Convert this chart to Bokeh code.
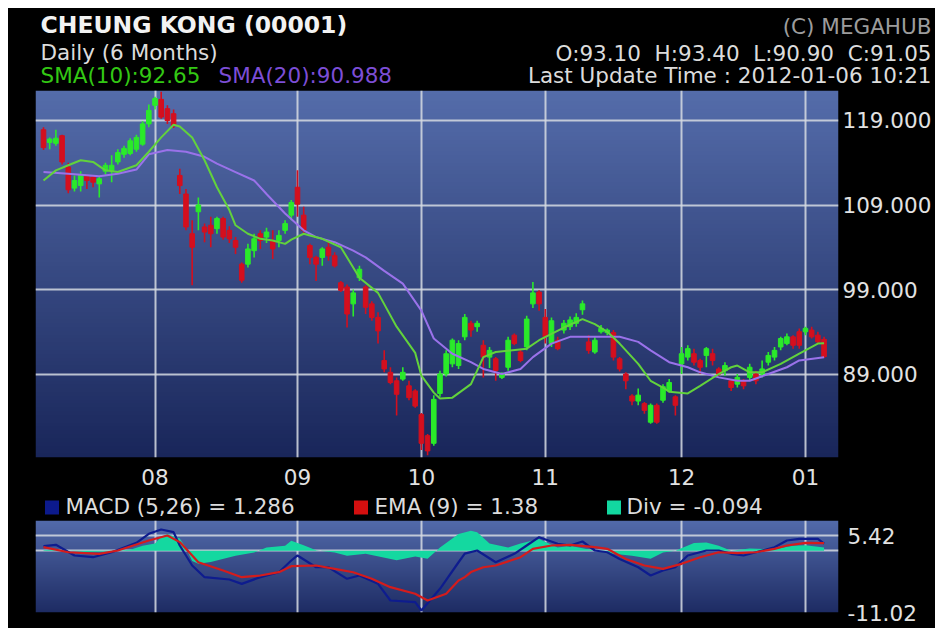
import numpy as np
from bokeh.plotting import figure
from bokeh.layouts import column
from bokeh.models import Range1d, FixedTicker, ColumnDataSource, Label
from bokeh.embed import file_html
from bokeh.resources import INLINE

FONT = "DejaVu Sans"
W = 927
BL, BR = 27, 97

# ---------------- data ----------------
month_idx = [18, 41, 61, 81, 103, 123]
month_labels = ["08", "09", "10", "11", "12", "01"]
price_ticks = [89, 99, 109, 119]
price_labels = ["89.000", "99.000", "109.000", "119.000"]

opens = [117.9, 116.4, 116.3, 117.2, 113.5, 111.0, 111.3, 112.4, 112.3, 111.5,
         113.0, 113.1, 114.1, 115.0, 115.1, 115.6, 116.2, 118.6, 120.8, 121.5,
         120.4, 119.8, 112.5, 110.3, 105.6, 108.2, 106.4, 106.6, 106.2, 107.4,
         106.0, 104.8, 102.0, 102.0, 103.6, 105.6, 105.2, 104.8, 104.8, 106.0,
         107.8, 111.1, 107.8, 104.2, 102.8, 102.8, 104.0, 103.0, 99.8, 99.3,
         97.3, 100.4, 99.3, 97.3, 95.7, 90.6, 89.2, 88.2, 88.4, 87.6,
         87.0, 84.2, 81.7, 80.8, 86.7, 89.0, 90.2, 90.0, 93.4, 95.0,
         94.6, 92.4, 91.0, 90.8, 88.6, 89.8, 93.6, 91.6, 92.2, 97.3,
         98.7, 95.7, 92.6, 93.0, 94.2, 94.6, 95.0, 96.6, 92.8, 91.6,
         94.0, 93.9, 93.9, 90.8, 89.0, 86.4, 85.8, 85.5, 83.3, 85.3,
         85.9, 87.0, 86.3, 90.2, 91.0, 91.4, 90.6, 91.2, 91.4, 89.6,
         89.4, 88.2, 87.8, 88.2, 88.6, 89.0, 89.0, 90.4, 91.0, 92.2,
         92.6, 93.4, 94.0, 94.0, 94.2, 93.6, 93.1]
highs = [118.2, 117.0, 117.9, 117.3, 114.0, 112.5, 113.0, 112.6, 112.5, 112.3,
         114.0, 114.9, 115.6, 116.0, 116.9, 117.3, 118.9, 120.9, 121.8, 122.4,
         120.8, 120.3, 113.3, 110.9, 107.2, 109.9, 106.8, 107.6, 107.6, 107.6,
         106.5, 105.2, 102.2, 104.4, 105.6, 106.0, 106.3, 106.0, 106.0, 107.2,
         109.6, 113.1, 108.8, 104.4, 103.0, 104.0, 104.6, 103.4, 100.0, 99.6,
         99.0, 101.8, 99.5, 97.6, 96.3, 91.8, 89.8, 88.6, 89.8, 88.2,
         87.2, 84.4, 81.9, 86.5, 89.4, 91.8, 93.2, 93.0, 96.1, 95.3,
         95.3, 93.0, 92.2, 91.0, 89.2, 93.4, 93.8, 92.0, 95.9, 99.9,
         98.9, 96.7, 95.7, 93.4, 95.4, 95.8, 96.2, 97.7, 93.6, 93.4,
         94.8, 94.4, 94.2, 91.0, 89.2, 86.6, 87.3, 85.7, 85.5, 85.5,
         87.8, 88.4, 86.5, 92.2, 92.4, 92.0, 90.8, 92.2, 92.0, 89.8,
         90.4, 88.4, 89.0, 88.4, 90.2, 89.4, 90.6, 91.6, 92.2, 93.4,
         93.8, 93.6, 94.4, 94.6, 94.6, 94.0, 93.4]
lows = [115.5, 115.6, 116.0, 113.8, 110.4, 110.6, 110.6, 110.9, 111.1, 109.9,
        112.6, 111.7, 113.8, 114.6, 114.9, 115.3, 116.0, 118.2, 120.3, 119.2,
        118.6, 118.1, 110.3, 106.0, 99.5, 106.0, 104.6, 104.0, 105.6, 104.9,
        104.5, 103.2, 99.8, 101.6, 102.8, 103.8, 104.5, 102.6, 104.0, 105.6,
        107.2, 107.6, 105.6, 102.0, 100.0, 101.8, 102.4, 101.6, 98.7, 94.5,
        95.8, 100.0, 96.1, 95.3, 92.6, 89.2, 87.8, 84.1, 88.2, 85.9,
        85.0, 80.0, 79.4, 80.5, 86.3, 88.7, 89.8, 89.6, 93.0, 93.4,
        94.0, 88.6, 89.7, 88.2, 88.4, 89.4, 92.4, 90.4, 91.8, 96.8,
        96.5, 92.6, 92.2, 91.8, 93.8, 94.2, 94.6, 96.0, 91.4, 91.4,
        93.8, 93.6, 90.6, 89.3, 87.2, 85.3, 85.3, 84.3, 83.1, 83.1,
        85.6, 86.8, 84.1, 89.0, 90.6, 90.0, 89.0, 89.8, 90.0, 88.8,
        88.8, 87.0, 87.4, 87.2, 88.2, 87.8, 88.6, 90.0, 90.6, 91.8,
        92.4, 92.0, 92.0, 93.6, 93.2, 92.6, 90.9]
closes = [115.8, 116.8, 116.9, 114.1, 110.8, 111.9, 112.6, 111.9, 111.7, 112.1,
          113.7, 113.7, 115.2, 115.7, 116.6, 117.0, 118.6, 120.2, 121.6, 119.4,
          119.0, 118.4, 111.3, 106.4, 104.0, 109.0, 105.8, 105.6, 107.4, 105.2,
          105.0, 104.0, 100.1, 103.8, 105.0, 104.8, 105.8, 103.8, 105.4, 106.8,
          109.3, 109.1, 106.0, 102.8, 102.0, 103.8, 103.0, 101.8, 98.9, 96.1,
          98.6, 101.4, 96.9, 95.7, 94.1, 89.6, 88.0, 86.6, 89.2, 86.2,
          85.2, 80.8, 79.9, 86.0, 89.0, 91.4, 93.0, 92.6, 95.7, 94.2,
          95.0, 91.0, 91.8, 89.4, 89.0, 93.0, 92.6, 90.6, 95.5, 98.6,
          97.3, 93.4, 95.3, 92.0, 95.0, 95.4, 95.7, 97.3, 91.8, 93.0,
          94.4, 94.2, 91.0, 89.6, 88.2, 85.8, 86.5, 84.7, 85.3, 83.3,
          87.5, 88.0, 85.3, 91.4, 92.0, 90.4, 89.8, 92.0, 90.6, 89.0,
          90.0, 87.4, 88.6, 87.6, 89.8, 88.2, 89.6, 91.2, 91.8, 93.2,
          93.4, 92.4, 92.4, 94.4, 93.4, 92.8, 91.05]

sma10_idx = [0, 2, 4, 6, 8, 10, 12, 15, 17, 19, 21, 22, 24, 26, 28, 30, 31, 33, 35, 37,
             39, 40, 42, 43, 45, 48, 51, 54, 57, 60, 61, 63, 64, 66, 69, 71, 73, 78, 80, 84,
             87, 89, 91, 93, 96, 98, 100, 101, 104, 106, 109, 111, 112, 114, 116, 119, 122, 125, 126]
sma10_val = [111.9, 113.1, 113.7, 114.3, 114.1, 113.1, 112.9, 113.7, 115.3, 117.0,
             118.5, 118.3, 117.0, 114.3, 111.1, 108.4, 106.6, 105.6, 105.0, 104.8,
             104.4, 104.9, 105.6, 105.4, 105.0, 104.0, 100.4, 98.6, 94.6, 91.5,
             88.8, 86.8, 86.1, 86.2, 87.8, 91.0, 91.6, 92.0, 93.0, 94.5,
             95.5, 94.9, 94.0, 92.6, 90.2, 88.2, 87.4, 86.9, 86.7, 87.6,
             89.0, 89.8, 90.0, 89.2, 89.2, 90.2, 91.4, 92.6, 92.65]

sma20_idx = [0, 4, 9, 12, 15, 17, 20, 23, 26, 28, 31, 34, 36, 39, 42, 44, 47, 50, 52, 55,
             58, 61, 63, 66, 69, 71, 74, 77, 79, 82, 85, 88, 90, 93, 96, 98, 101, 104, 106, 109,
             112, 114, 117, 120, 122, 126]
sma20_val = [112.9, 112.7, 112.4, 112.7, 113.2, 115.0, 115.5, 115.3, 114.7, 113.9,
             112.9, 111.9, 110.3, 108.0, 106.0, 105.2, 104.6, 103.6, 102.8, 101.2,
             99.7, 96.5, 93.2, 91.4, 90.4, 89.6, 89.0, 89.6, 91.0, 92.6,
             93.4, 93.4, 93.4, 93.4, 92.8, 91.8, 90.4, 89.8, 89.2, 88.6,
             88.2, 88.2, 89.0, 89.8, 90.6, 90.988]

macd_idx = [0, 2, 5, 8, 11, 15, 17, 19, 21, 22, 24, 26, 30, 32, 35, 38, 40, 41, 44, 46,
            49, 51, 54, 56, 60, 61, 64, 67, 68, 70, 73, 76, 78, 80, 83, 85, 87, 89, 91, 93,
            96, 98, 100, 102, 104, 107, 109, 111, 113, 115, 118, 120, 122, 125, 126]
macd_val = [0.83, 1.08, -0.83, -1.14, -0.25, 1.43, 3.04, 3.81, 3.33, 0.95,
            -2.62, -4.71, -5.12, -5.9, -4.71, -3.82, -1.73, -0.83, -2.93, -2.93,
            -5.0, -4.41, -5.9, -8.88, -9.18, -10.66, -6.79, -2.04, -0.5, 0.06,
            -2.04, -0.53, 0.95, 2.44, 1.26, 0.95, 1.67, 0.06, -0.25, -1.45,
            -2.93, -4.41, -3.52, -2.93, -0.83, 0.06, 0.06, -0.53, -0.83, -0.25,
            0.65, 1.85, 2.15, 2.15, 1.286]

ema_idx = [0, 4, 9, 12, 17, 20, 22, 25, 29, 32, 35, 38, 40, 44, 47, 50, 53, 56, 60, 62,
           65, 67, 68, 69, 71, 73, 77, 79, 82, 85, 89, 91, 94, 97, 100, 103, 106, 109, 112, 115,
           118, 120, 123, 126]
ema_val = [0.65, -0.25, -0.53, 0.06, 1.85, 2.74, 1.56, -2.04, -3.52, -4.71,
           -4.41, -3.82, -2.75, -2.62, -3.22, -3.82, -5.0, -6.49, -7.68, -8.88,
           -7.68, -5.3, -4.7, -3.8, -2.93, -2.62, -1.14, 0.36, 0.95, 1.08,
           0.65, 0.36, -1.45, -2.62, -3.22, -2.32, -1.14, -0.25, -0.4, -0.25,
           0.36, 0.95, 1.43, 1.38]

div_idx = [0, 2, 4, 7, 10, 14, 16, 18, 19, 20, 22, 23, 24, 25, 27, 31, 34, 36, 39, 40,
           42, 44, 47, 49, 52, 57, 60, 62, 64, 67, 69, 70, 72, 75, 77, 80, 83, 85, 89, 92,
           95, 98, 100, 102, 105, 107, 109, 111, 114, 118, 121, 123, 126]
div_val = [0.1, 0.3, 0.0, -0.2, -0.1, 0.2, 0.9, 1.3, 2.5, 3.0,
           2.2, 0.5, -1.8, -2.3, -2.0, -0.9, -0.3, 0.6, 0.9, 1.8,
           1.0, 0.1, -0.3, -0.9, -0.5, -1.7, -1.0, -1.4, 0.6, 3.0,
           3.6, 3.3, 1.3, 0.6, 1.3, 2.1, 0.6, 0.9, 0.0, -0.5,
           -0.9, -1.4, -0.3, 0.0, 1.4, 1.5, 0.9, 0.0, 0.4, 0.3,
           0.9, 1.0, 0.6]

macd_ticks = [2.71, -11.02]
macd_tick_labels = ["5.42", "-11.02"]
macd_grid = [0, 2.71]

NB = "\u00a0"
header_left = ["CHEUNG KONG (00001)", "Daily (6 Months)"]
header_sma = ["SMA(10):92.65", "SMA(20):90.988"]
header_right = ["(C) MEGAHUB", f"O:93.10{NB} H:93.40{NB} L:90.90{NB} C:91.05",
                "Last Update Time : 2012-01-06 10:21"]
legend_texts = ["MACD (5,26) = 1.286", "EMA (9) = 1.38", "Div = -0.094"]
legend_colors = ["#0c1a8c", "#d40f0f", "#12d8a0"]

# ---------------- styling helpers ----------------
UP = "#2aea2a"
DOWN = "#d40f1e"
GRID = "#d6dae2"
TXT = "#dcdcdc"


def gradient(top, bottom, n=96):
    img = np.empty((n, 1), dtype=np.uint32)
    view = img.view(dtype=np.uint8).reshape((n, 1, 4))
    for r in range(n):
        t = r / (n - 1)
        for k in range(3):
            view[r, 0, k] = int(round(bottom[k] + (top[k] - bottom[k]) * t))
        view[r, 0, 3] = 255
    return img


def text_fig(h):
    # full-canvas frame: data coordinates equal the figure's own pixel coordinates
    f = figure(width=W, height=h, x_range=Range1d(0, W), y_range=Range1d(0, h),
               toolbar_location=None, output_backend="svg",
               x_axis_type=None, y_axis_type=None, min_border=0,
               min_border_left=0, min_border_right=0, min_border_top=0, min_border_bottom=0,
               background_fill_color="black", border_fill_color="black",
               outline_line_color=None)
    f.frame_align = False
    return f


def lab(f, x, y, text, color, size="21.5px", align="left", style="normal"):
    f.add_layout(Label(x=x, y=y, text=text, text_font=FONT, text_font_size=size,
                       text_color=color, text_align=align, text_baseline="alphabetic",
                       text_font_style=style))


# ---------------- header ----------------
hdr = text_fig(82)
lab(hdr, 32, 66, header_left[0], "#f2f2f2", size="23.5px", style="bold")
lab(hdr, 32, 38, header_left[1], TXT)
lab(hdr, 32, 15, header_sma[0], "#33c814")
lab(hdr, 210, 15, header_sma[1], "#7c4ed6")
lab(hdr, 923, 64, header_right[0], "#9c9c9c", align="right")
lab(hdr, 923, 37, header_right[1], TXT, align="right")
lab(hdr, 923, 15, header_right[2], TXT, align="right")

# ---------------- main price chart ----------------
XR = Range1d(-1.291, 128.33)
p = figure(width=W, height=405, x_range=XR, y_range=Range1d(79.12, 122.55),
           y_axis_location="right", toolbar_location=None, output_backend="svg",
           min_border_left=BL, min_border_right=BR, min_border_top=0, min_border_bottom=38,
           background_fill_color="black", border_fill_color="black", outline_line_color=None)
p.image_rgba(image=[gradient((84, 108, 170), (25, 38, 90))], x=-1.291, y=79.12,
             dw=129.621, dh=43.43, level="image")

idx = list(range(len(opens)))
colors = [UP if c >= o else DOWN for o, c in zip(opens, closes)]
src = ColumnDataSource(dict(
    x=idx, o=opens, h=highs, l=lows, c=closes, color=colors,
    top=[max(o, c) for o, c in zip(opens, closes)],
    bot=[min(o, c) for o, c in zip(opens, closes)],
))
p.segment(x0="x", y0="l", x1="x", y1="h", line_color="color", line_width=1.6, source=src)
p.vbar(x="x", width=0.74, top="top", bottom="bot", fill_color="color",
       line_color="color", line_width=1, source=src)
p.line(sma20_idx, sma20_val, line_color="#9a72ea", line_width=2)
p.line(sma10_idx, sma10_val, line_color="#62d23c", line_width=2)

p.xgrid.ticker = FixedTicker(ticks=month_idx)
p.ygrid.ticker = FixedTicker(ticks=price_ticks)
for g in (p.xgrid, p.ygrid):
    g.grid_line_color = GRID
    g.grid_line_alpha = 0.85
    g.grid_line_width = 2

p.xaxis.ticker = FixedTicker(ticks=month_idx)
p.xaxis.major_label_overrides = dict(zip(month_idx, month_labels))
p.yaxis.ticker = FixedTicker(ticks=price_ticks)
p.yaxis.major_label_overrides = dict(zip(price_ticks, price_labels))
for ax in (p.xaxis[0], p.yaxis[0]):
    ax.axis_line_color = None
    ax.major_tick_line_color = None
    ax.minor_tick_line_color = None
    ax.major_tick_out = 0
    ax.major_tick_in = 0
    ax.minor_tick_out = 0
    ax.major_label_text_font = FONT
    ax.major_label_text_font_size = "21.5px"
    ax.major_label_text_color = "#e2e2e2"
p.xaxis.major_label_standoff = 11
p.yaxis.major_label_standoff = 4

# ---------------- MACD legend row ----------------
leg = text_fig(25)
leg.rect(x=[43.5, 352.5, 605.5], y=[13, 13, 13], width=14, height=14,
         fill_color=legend_colors, line_color=None)
for xx, t in zip([57, 366, 618], legend_texts):
    lab(leg, xx, 14, t, TXT)

# ---------------- MACD panel ----------------
m = figure(width=W, height=108, x_range=XR, y_range=Range1d(-11.02, 5.42),
           y_axis_location="right", x_axis_location=None,
           toolbar_location=None, output_backend="svg",
           min_border_left=BL, min_border_right=BR, min_border_top=0, min_border_bottom=16,
           background_fill_color="black", border_fill_color="black", outline_line_color=None)
m.image_rgba(image=[gradient((82, 106, 170), (30, 44, 100))], x=-1.291, y=-11.02,
             dw=129.621, dh=16.44, level="image")
m.varea(x=div_idx, y1=[0] * len(div_idx), y2=div_val, fill_color="#14d8a0")
m.line(macd_idx, macd_val, line_color="#0e1c8e", line_width=2.2)
m.line(ema_idx, ema_val, line_color="#d41c1c", line_width=2.2)

m.xgrid.ticker = FixedTicker(ticks=month_idx)
m.ygrid.ticker = FixedTicker(ticks=macd_grid)
for g in (m.xgrid, m.ygrid):
    g.grid_line_color = GRID
    g.grid_line_alpha = 0.85
    g.grid_line_width = 2
ay = m.yaxis[0]
ay.ticker = FixedTicker(ticks=macd_ticks)
ay.major_label_overrides = dict(zip(macd_ticks, macd_tick_labels))
ay.axis_line_color = None
ay.major_tick_line_color = None
ay.minor_tick_line_color = None
ay.major_tick_out = 0
ay.major_tick_in = 0
ay.minor_tick_out = 0
ay.major_label_standoff = 9
ay.major_label_text_font = FONT
ay.major_label_text_font_size = "21.5px"
ay.major_label_text_color = "#e2e2e2"

layout = column(hdr, p, leg, m, spacing=0, margin=(8, 0, 0, 8),
                styles={"background-color": "black"})
open("out.html", "w").write(file_html(layout, INLINE))
